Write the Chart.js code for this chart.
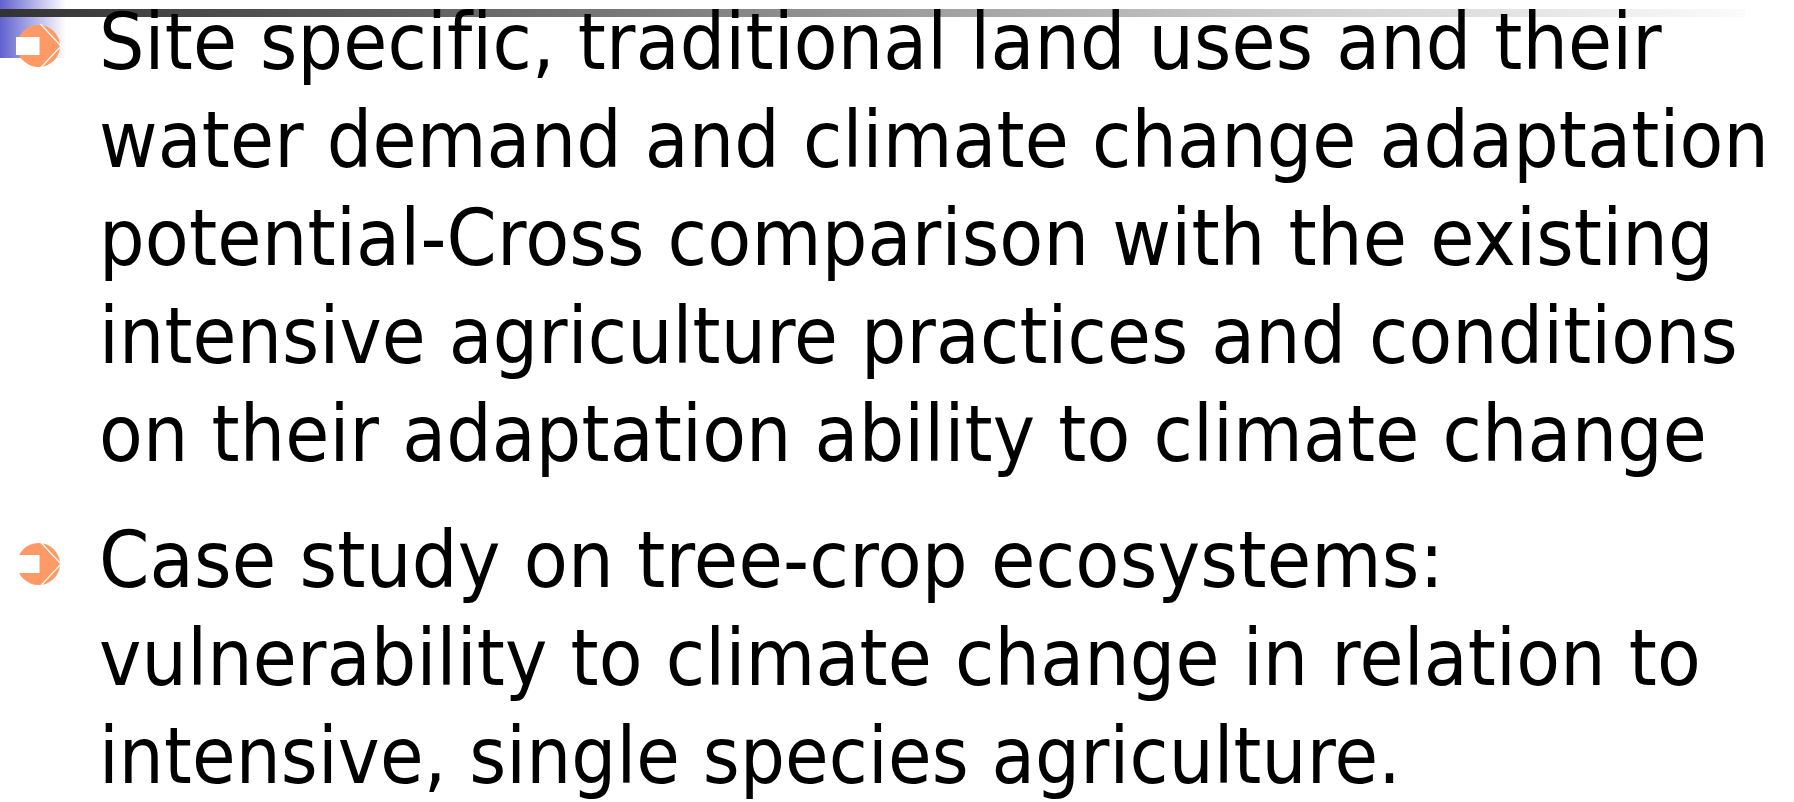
<!DOCTYPE html>
<html>
<head>
<meta charset="utf-8">
<script src="https://cdn.jsdelivr.net/npm/chart.js@4"></script>
<style>
  html, body { margin: 0; padding: 0; background: #fff; overflow: hidden; }
  #stage { position: relative; width: 1794px; height: 802px; }
  #slideCanvas { position: absolute; left: 0; top: 0; }
  .line {
    position: absolute; left: 99px; white-space: nowrap;
    font-family: "DejaVu Sans", Verdana, sans-serif; font-size: 78px;
    line-height: 78px; color: #000; transform-origin: 0 0; z-index: 2;
    font-variant-ligatures: none; font-feature-settings: "liga" 0, "clig" 0;
    letter-spacing: 0.2px;
  }
  .mark { display: inline-block; width: 0; height: 0; vertical-align: baseline; }
</style>
</head>
<body>
<div id="stage">
  <canvas id="slideCanvas" width="1794" height="802"></canvas>
</div>
<script>
// ---- slide content ----
const bullet1Lines = [
  "Site specific, traditional land uses and their",
  "water demand and climate change adaptation",
  "potential-Cross comparison with the existing",
  "intensive agriculture practices and conditions",
  "on their adaptation ability to climate change"
];
const bullet2Lines = [
  "Case study on tree-crop ecosystems:",
  "vulnerability to climate change in relation to",
  "intensive, single species agriculture."
];

// layout (px): baselines of each line and right edge of each line in the picture
const firstBaseline = [69, 587];
const lineStep = 98;
const rightEdges = [[1662, 1769, 1714, 1738, 1707], [1444, 1701, 1401]];
const textLeft = 99;

const stage = document.getElementById('stage');
const bulletBaselines = [];

[bullet1Lines, bullet2Lines].forEach((lines, b) => {
  bulletBaselines.push(firstBaseline[b]);
  lines.forEach((txt, i) => {
    const div = document.createElement('div');
    div.className = 'line';
    div.textContent = txt;
    const mark = document.createElement('span');
    mark.className = 'mark';
    div.appendChild(mark);
    div.style.top = '0px';
    stage.appendChild(div);
    // find the baseline inside the line box, then shift so it lands where it should
    const baseOff = mark.getBoundingClientRect().top - div.getBoundingClientRect().top;
    const baseline = firstBaseline[b] + i * lineStep;
    div.style.top = (baseline - baseOff) + 'px';
    const w = div.getBoundingClientRect().width;
    const target = rightEdges[b][i] - textLeft;
    div.style.transform = 'scaleX(' + (target / w).toFixed(4) + ')';
  });
});

// ---- decorations drawn by a Chart.js plugin ----
const slideDecor = {
  id: 'slideDecor',
  beforeDraw(chart) {
    const ctx = chart.ctx;
    ctx.save();
    ctx.fillStyle = '#fff';
    ctx.fillRect(0, 0, chart.width, chart.height);

    // blue corner block
    let g = ctx.createLinearGradient(0, 0, 66, 0);
    g.addColorStop(0, '#6161cf');
    g.addColorStop(1, 'rgba(255,255,255,1)');
    ctx.fillStyle = g;
    ctx.fillRect(0, 0, 66, 58);

    // grey title rule
    g = ctx.createLinearGradient(0, 0, 1745, 0);
    g.addColorStop(0, '#333333');
    g.addColorStop(0.35, '#777777');
    g.addColorStop(0.75, '#cfcfcf');
    g.addColorStop(1, '#fbfbfb');
    ctx.fillStyle = g;
    ctx.fillRect(0, 9, 1745, 8);

    // arrow bullets
    bulletBaselines.forEach(bl => {
      const cx = 38.5, cy = bl - 23, rx = 21.5, ry = 21;
      ctx.fillStyle = '#ff9a66';
      ctx.beginPath();
      ctx.ellipse(cx, cy, rx, ry, 0, 0, Math.PI * 2);
      ctx.fill();
      // white shaft notch
      ctx.fillStyle = '#fff';
      ctx.fillRect(cx - rx - 1, cy - 9, 23.5, 18);
      // thin white edge of the arrow head
      ctx.strokeStyle = '#fff';
      ctx.lineWidth = 1.2;
      ctx.beginPath();
      ctx.moveTo(cx + 2, cy - ry - 1);
      ctx.lineTo(cx + rx + 1, cy);
      ctx.lineTo(cx + 2, cy + ry + 1);
      ctx.stroke();
    });
    ctx.restore();
  }
};

new Chart(document.getElementById('slideCanvas'), {
  type: 'scatter',
  data: { datasets: [] },
  options: {
    responsive: false,
    animation: false,
    events: [],
    layout: { padding: 0 },
    plugins: { legend: { display: false }, tooltip: { enabled: false }, title: { display: false } },
    scales: { x: { display: false }, y: { display: false } }
  },
  plugins: [slideDecor]
});
</script>
</body>
</html>
